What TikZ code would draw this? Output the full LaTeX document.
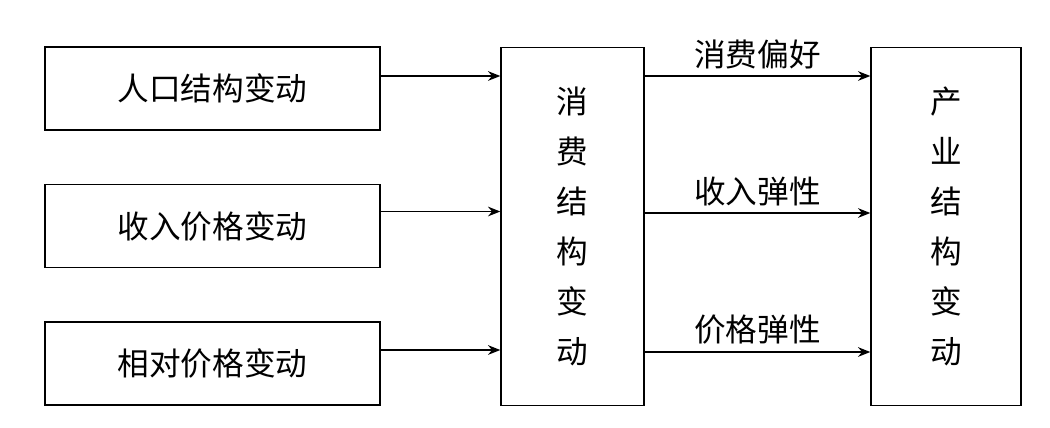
\documentclass[tikz,border=0pt]{standalone}
\usepackage{fontspec}
\newfontfamily\cjk{Noto Sans CJK SC}
\usetikzlibrary{arrows.meta, positioning, calc}

\begin{document}
\begin{tikzpicture}[x=0.02cm, y=-0.02cm,
    cause/.style={draw, line width=0.8pt, minimum width=6.7cm, minimum height=1.66cm, inner sep=0pt, font=\cjk\fontsize{18}{22}\selectfont},
    tall/.style={draw, line width=0.8pt, minimum height=7.16cm, inner sep=0pt, align=center, font=\cjk\fontsize{18}{28.5}\selectfont},
    lab/.style={font=\cjk\fontsize{18}{22}\selectfont, inner sep=0pt},
    arr/.style={-{Stealth[length=7pt, width=5.5pt]}, line width=0.8pt}]
    \useasboundingbox (0,0) rectangle (1050,427);
    \node[cause] (pop) at (212.5,88.5) {人口结构变动};
    \node[cause] (inc) at (212.5,226) {收入价格变动};
    \node[cause] (rel) at (212.5,363.5) {相对价格变动};
    \node[tall, minimum width=2.86cm] (cons) at (572.5,226.5) {消\\费\\结\\构\\变\\动};
    \node[tall, minimum width=3.0cm] (ind) at (946,226.5) {产\\业\\结\\构\\变\\动};
    \draw[arr] ([yshift=0.25cm]pop.east) -- ([yshift=0.25cm]pop.east -| cons.west);
    \draw[arr] ([yshift=0.29cm]inc.east) -- ([yshift=0.29cm]inc.east -| cons.west);
    \draw[arr] ([yshift=0.27cm]rel.east) -- ([yshift=0.27cm]rel.east -| cons.west);
    \draw[arr] ([yshift=0.25cm]pop.east -| cons.east) -- ([yshift=0.25cm]pop.east -| ind.west)
        node[lab, midway, yshift=0.44cm] (pref) {消费偏好};
    \draw[arr] ([yshift=0.26cm]inc.east -| cons.east) -- ([yshift=0.26cm]inc.east -| ind.west)
        node[lab, midway, yshift=0.44cm] (ielast) {收入弹性};
    \draw[arr] ([yshift=0.23cm]rel.east -| cons.east) -- ([yshift=0.23cm]rel.east -| ind.west)
        node[lab, midway, yshift=0.44cm] (pelast) {价格弹性};
\end{tikzpicture}
\end{document}
